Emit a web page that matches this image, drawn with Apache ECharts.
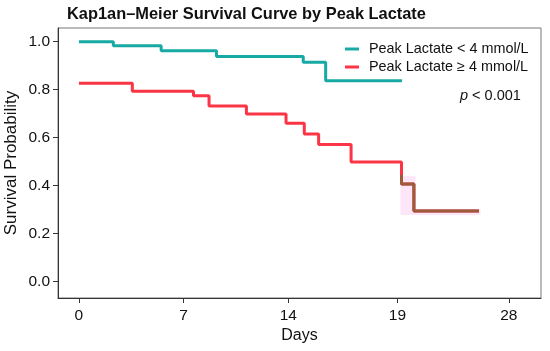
<!DOCTYPE html>
<html>
<head>
<meta charset="utf-8">
<script src="https://cdn.jsdelivr.net/npm/echarts@6/dist/echarts.min.js"></script>
<style>html,body{margin:0;padding:0;background:#fff}#c{width:550px;height:351px}</style>
</head>
<body>
<div id="c"></div>
<script>
// ---- data ----
const titleText = 'Kap1an\u2013Meier Survival Curve by Peak Lactate';
const seriesNames = ['Peak Lactate < 4 mmol/L', 'Peak Lactate \u2265 4 mmol/L'];
// [day, survival probability] step points
const lowLactate = [[0,1.0],[2.3,0.983],[5.5,0.9625],[9.2,0.938],[15.0,0.914],[16.5,0.8375],[21.6,0.8375]];
const highLactate = [[0,0.827],[3.57,0.793],[7.66,0.775],[8.7,0.732],[11.2,0.699],[13.85,0.66],[15.07,0.615],[16.03,0.572],[18.2,0.499],[21.57,0.407],[22.4,0.295],[26.75,0.295]];
const overlapSegment = [[21.57,0.445],[21.57,0.407],[22.4,0.295],[26.75,0.295]];
// confidence band rectangles: [x0, x1, lower, upper]
const ciBands = [[21.5,22.5,0.278,0.44],[22.4,26.85,0.278,0.303]];
const xTickValues = [0, 7, 14, 21.3, 28.75];
const xTickLabels = ['0', '7', '14', '19', '28'];
const yTickValues = [0, 0.2, 0.4, 0.6, 0.8, 1.0];

const FONT = '"Liberation Sans", Arial, sans-serif';
const chart = echarts.init(document.getElementById('c'), null, {renderer: 'canvas'});

chart.setOption({
  animation: false,
  backgroundColor: '#fff',
  title: {
    text: titleText, left: 67, top: 6, padding: 0,
    textStyle: {fontFamily: FONT, fontSize: 16.4, fontWeight: 'bold', color: '#111'}
  },
  grid: {left: 58, top: 28, right: 9, bottom: 53, show: true, borderColor: '#777', borderWidth: 1,
    backgroundColor: 'transparent', containLabel: false, outerBoundsMode: 'none'},
  legend: {
    data: seriesNames, orient: 'vertical', left: 345, top: 42, itemGap: 4, padding: 0,
    icon: 'rect', itemWidth: 14, itemHeight: 3,
    textStyle: {fontFamily: FONT, fontSize: 14.4, color: '#111', padding: [0,0,0,5]}
  },
  xAxis: {
    type: 'value', min: -1.4, max: 30.9,
    name: 'Days', nameLocation: 'middle', nameGap: 30, nameMoveOverlap: false,
    nameTextStyle: {fontFamily: FONT, fontSize: 16, color: '#111'},
    axisLine: {show: true, onZero: false, lineStyle: {color: '#333', width: 1}},
    axisTick: {show: true, length: 5, customValues: xTickValues, lineStyle: {color: '#333'}},
    axisLabel: {customValues: xTickValues, margin: 10, fontFamily: FONT, fontSize: 15.5, color: '#111',
      formatter: v => { const i = xTickValues.indexOf(v); return i >= 0 ? xTickLabels[i] : ''; }},
    splitLine: {show: false}
  },
  yAxis: {
    type: 'value', min: -0.068, max: 1.057,
    name: 'Survival Probability', nameLocation: 'middle', nameGap: 38, nameMoveOverlap: false,
    nameTextStyle: {fontFamily: FONT, fontSize: 17, color: '#111'},
    axisLine: {show: true, onZero: false, lineStyle: {color: '#333', width: 1}},
    axisTick: {show: true, length: 5, customValues: yTickValues, lineStyle: {color: '#333'}},
    axisLabel: {customValues: yTickValues, margin: 8, fontFamily: FONT, fontSize: 15.5, color: '#111',
      formatter: v => v.toFixed(1)},
    splitLine: {show: false}
  },
  series: [
    {
      name: 'ci', type: 'line', data: [], silent: true,
      markArea: {silent: true, itemStyle: {color: '#fce6f8'},
        data: ciBands.map(b => [{coord: [b[0], b[3]]}, {coord: [b[1], b[2]]}])}
    },
    {
      name: seriesNames[0], type: 'line', step: 'end', data: lowLactate, showSymbol: false,
      color: '#17a9a3', lineStyle: {width: 3, color: '#17a9a3'}, z: 3
    },
    {
      name: seriesNames[1], type: 'line', step: 'end', data: highLactate, showSymbol: false,
      color: '#fb3446', lineStyle: {width: 3, color: '#fb3446'}, z: 3
    },
    {
      name: 'overlap', type: 'line', step: 'end', data: overlapSegment, showSymbol: false,
      lineStyle: {width: 3, color: '#9a5d3c'}, z: 4
    }
  ],
  graphic: [{
    type: 'text', left: 460, top: 88,
    style: {
      text: '{i|p} < 0.001', fontFamily: FONT, fontSize: 14.5, fill: '#111',
      rich: {i: {fontStyle: 'italic', fontFamily: FONT, fontSize: 14.5, fill: '#111'}}
    }
  }]
});
</script>
</body>
</html>
